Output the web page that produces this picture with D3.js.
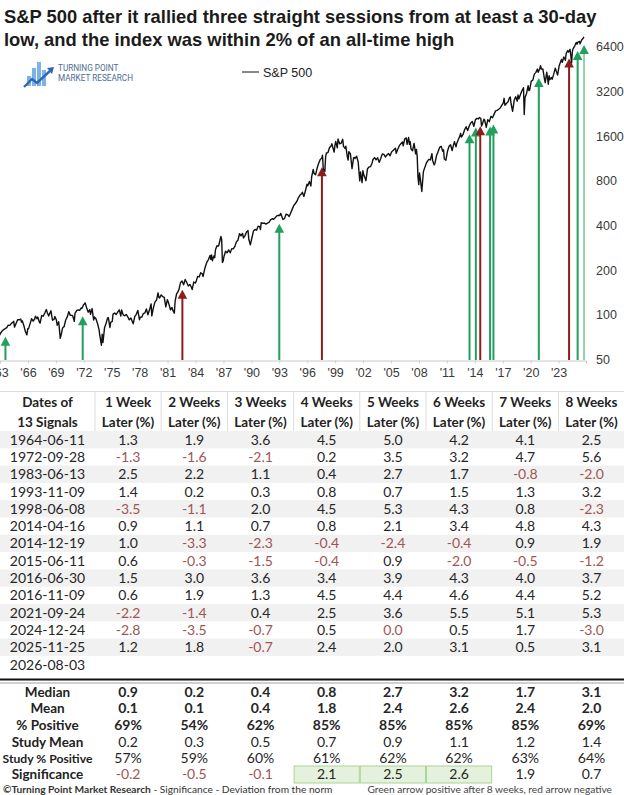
<!DOCTYPE html>
<html>
<head>
<meta charset="utf-8">
<script src="https://cdn.jsdelivr.net/npm/d3@7"></script>
<style>
  body { margin: 0; background: #fff; }
  svg { display: block; }
</style>
</head>
<body>
<div id="chart"></div>
<script>
// S&P 500 closes, [month, close]
const spx60s = [
  ["1963-10", 74.0], ["1963-11", 73.2], ["1963-12", 75.0],
  ["1964-02", 77.8], ["1964-04", 79.5], ["1964-06", 80.5], ["1964-08", 81.8], ["1964-10", 85.0], ["1964-12", 84.8],
  ["1965-02", 87.4], ["1965-04", 89.1], ["1965-05", 90.3], ["1965-06", 82.5], ["1965-08", 87.2], ["1965-10", 92.4], ["1965-12", 92.4],
  ["1966-02", 93.5], ["1966-03", 89.2], ["1966-04", 91.1], ["1966-06", 84.7], ["1966-08", 77.1], ["1966-10", 73.2], ["1966-11", 80.4], ["1966-12", 80.3],
  ["1967-02", 86.8], ["1967-04", 94.0], ["1967-06", 90.6], ["1967-08", 93.6], ["1967-09", 97.6], ["1967-11", 94.0], ["1967-12", 96.5],
  ["1968-02", 89.4], ["1968-03", 87.7], ["1968-05", 98.7], ["1968-07", 97.7], ["1968-09", 102.7], ["1968-11", 108.4], ["1968-12", 103.9],
  ["1969-02", 98.1], ["1969-04", 103.7], ["1969-05", 106.2], ["1969-07", 91.8], ["1969-09", 93.1], ["1969-10", 97.2], ["1969-12", 92.1]
]
const spx70s = [
  ["1970-01", 85.0], ["1970-03", 89.6], ["1970-05", 69.3], ["1970-06", 72.7], ["1970-08", 81.5], ["1970-10", 83.3], ["1970-12", 92.2],
  ["1971-02", 96.8], ["1971-04", 104.8], ["1971-06", 99.0], ["1971-08", 99.0], ["1971-09", 98.3], ["1971-11", 90.2], ["1971-12", 102.1],
  ["1972-02", 106.6], ["1972-04", 107.7], ["1972-06", 107.1], ["1972-08", 111.1], ["1972-09", 110.5], ["1972-11", 116.7], ["1972-12", 118.1],
  ["1973-01", 120.2], ["1973-03", 111.5], ["1973-05", 104.0], ["1973-07", 108.2], ["1973-08", 100.5], ["1973-10", 110.0], ["1973-12", 92.2],
  ["1974-01", 96.6], ["1974-03", 94.0], ["1974-05", 87.3], ["1974-07", 79.3], ["1974-08", 72.2], ["1974-10", 62.3], ["1974-11", 73.9], ["1974-12", 65.0],
  ["1975-02", 81.6], ["1975-04", 87.3], ["1975-06", 95.2], ["1975-07", 95.6], ["1975-09", 82.1], ["1975-10", 89.0], ["1975-12", 90.2],
  ["1976-01", 100.9], ["1976-03", 102.8], ["1976-05", 100.2], ["1976-07", 104.0], ["1976-09", 107.8], ["1976-11", 98.0], ["1976-12", 107.5],
  ["1977-02", 99.8], ["1977-04", 98.4], ["1977-06", 100.5], ["1977-08", 96.8], ["1977-10", 92.3], ["1977-12", 95.1],
  ["1978-03", 86.9], ["1978-05", 97.2], ["1978-07", 100.7], ["1978-09", 107.0], ["1978-11", 92.5], ["1978-12", 96.1],
  ["1979-02", 96.3], ["1979-04", 101.8], ["1979-06", 102.9], ["1979-08", 109.3], ["1979-10", 99.9], ["1979-12", 107.9]
]
const spx80s = [
  ["1980-02", 118.4], ["1980-03", 98.2], ["1980-05", 111.2], ["1980-07", 121.7], ["1980-09", 125.5], ["1980-11", 140.5], ["1980-12", 131.0],
  ["1981-01", 129.6], ["1981-03", 136.0], ["1981-05", 132.6], ["1981-07", 130.9], ["1981-09", 112.8], ["1981-11", 126.4], ["1981-12", 122.6],
  ["1982-02", 113.1], ["1982-03", 108.0], ["1982-05", 111.9], ["1982-06", 107.3], ["1982-08", 102.4], ["1982-09", 123.3], ["1982-11", 139.0], ["1982-12", 140.6],
  ["1983-02", 148.1], ["1983-04", 164.4], ["1983-06", 169.0], ["1983-08", 159.0], ["1983-10", 172.7], ["1983-12", 164.9],
  ["1984-02", 156.3], ["1984-04", 160.1], ["1984-06", 153.2], ["1984-07", 147.8], ["1984-09", 166.1], ["1984-11", 163.6], ["1984-12", 167.2],
  ["1985-02", 181.2], ["1985-04", 179.8], ["1985-06", 191.9], ["1985-08", 188.6], ["1985-09", 180.7], ["1985-11", 202.2], ["1985-12", 211.3],
  ["1986-02", 226.9], ["1986-04", 235.5], ["1986-06", 250.8], ["1986-07", 236.1], ["1986-08", 253.0], ["1986-09", 231.3], ["1986-11", 249.2], ["1986-12", 242.2],
  ["1987-01", 274.1], ["1987-03", 291.7], ["1987-05", 290.1], ["1987-07", 318.7], ["1987-08", 336.8], ["1987-09", 321.8], ["1987-10", 224.8], ["1987-11", 230.3], ["1987-12", 247.1],
  ["1988-02", 267.8], ["1988-04", 261.3], ["1988-06", 273.5], ["1988-08", 261.5], ["1988-10", 278.9], ["1988-12", 277.7],
  ["1989-02", 288.9], ["1989-04", 309.6], ["1989-06", 318.0], ["1989-08", 351.5], ["1989-10", 340.4], ["1989-12", 353.4]
]
const spx90s = [
  ["1990-01", 329.1], ["1990-03", 339.9], ["1990-05", 361.2], ["1990-07", 368.9], ["1990-08", 322.6], ["1990-10", 295.5], ["1990-12", 330.2],
  ["1991-02", 367.1], ["1991-04", 375.3], ["1991-06", 371.2], ["1991-08", 395.4], ["1991-10", 392.5], ["1991-11", 375.2], ["1991-12", 417.1],
  ["1992-02", 412.7], ["1992-04", 414.9], ["1992-06", 408.1], ["1992-08", 414.0], ["1992-10", 418.7], ["1992-12", 435.7],
  ["1993-02", 443.4], ["1993-04", 440.2], ["1993-06", 450.5], ["1993-08", 463.6], ["1993-10", 467.8], ["1993-12", 466.5],
  ["1994-01", 482.0], ["1994-04", 438.9], ["1994-06", 444.3], ["1994-08", 475.5], ["1994-10", 472.4], ["1994-12", 459.3],
  ["1995-02", 487.4], ["1995-04", 514.7], ["1995-06", 544.8], ["1995-08", 561.9], ["1995-10", 581.5], ["1995-12", 615.9],
  ["1996-02", 640.4], ["1996-04", 654.2], ["1996-05", 669.1], ["1996-07", 626.6], ["1996-09", 687.3], ["1996-11", 757.0], ["1996-12", 740.7],
  ["1997-02", 790.8], ["1997-04", 737.7], ["1997-05", 848.3], ["1997-07", 954.3], ["1997-08", 899.5], ["1997-10", 877.0], ["1997-12", 970.4],
  ["1998-02", 1049.3], ["1998-04", 1111.8], ["1998-06", 1133.8], ["1998-07", 1186.8], ["1998-08", 957.3], ["1998-10", 923.3], ["1998-11", 1163.6], ["1998-12", 1229.2],
  ["1999-02", 1238.3], ["1999-04", 1335.2], ["1999-06", 1372.7], ["1999-07", 1418.8], ["1999-10", 1247.4], ["1999-11", 1388.9], ["1999-12", 1469.3]
]
const spx00s = [
  ["2000-02", 1333.4], ["2000-03", 1527.5], ["2000-05", 1420.6], ["2000-07", 1430.8], ["2000-09", 1520.8], ["2000-10", 1364.4], ["2000-12", 1320.3],
  ["2001-01", 1366.0], ["2001-03", 1160.3], ["2001-04", 1103.3], ["2001-05", 1255.8], ["2001-07", 1211.2], ["2001-09", 965.8], ["2001-11", 1139.5], ["2001-12", 1148.1],
  ["2002-01", 1130.2], ["2002-03", 1170.3], ["2002-05", 1067.1], ["2002-07", 797.7], ["2002-08", 916.1], ["2002-10", 776.8], ["2002-11", 936.3], ["2002-12", 879.8],
  ["2003-01", 855.7], ["2003-03", 800.7], ["2003-05", 963.6], ["2003-07", 990.3], ["2003-09", 996.0], ["2003-11", 1058.2], ["2003-12", 1111.9],
  ["2004-02", 1144.9], ["2004-04", 1107.3], ["2004-06", 1140.8], ["2004-08", 1063.2], ["2004-10", 1130.2], ["2004-12", 1211.9],
  ["2005-02", 1203.6], ["2005-04", 1156.9], ["2005-06", 1191.3], ["2005-08", 1220.3], ["2005-10", 1177.6], ["2005-12", 1248.3],
  ["2006-02", 1280.7], ["2006-05", 1325.8], ["2006-06", 1223.7], ["2006-08", 1303.8], ["2006-10", 1377.9], ["2006-12", 1418.3],
  ["2007-02", 1459.7], ["2007-03", 1374.1], ["2007-05", 1530.6], ["2007-07", 1553.1], ["2007-08", 1406.7], ["2007-10", 1565.2], ["2007-11", 1407.2], ["2007-12", 1468.4],
  ["2008-01", 1310.5], ["2008-03", 1273.4], ["2008-05", 1426.6], ["2008-07", 1214.9], ["2008-08", 1300.7], ["2008-09", 1166.4], ["2008-10", 848.9], ["2008-11", 752.4], ["2008-12", 903.3],
  ["2009-01", 825.9], ["2009-03", 676.5], ["2009-05", 919.1], ["2009-07", 987.5], ["2009-09", 1057.1], ["2009-11", 1095.6], ["2009-12", 1115.1]
]
const spx10s = [
  ["2010-02", 1104.5], ["2010-04", 1217.3], ["2010-05", 1089.4], ["2010-07", 1022.6], ["2010-08", 1049.3], ["2010-10", 1183.3], ["2010-12", 1257.6],
  ["2011-02", 1343.0], ["2011-04", 1363.6], ["2011-06", 1265.4], ["2011-07", 1292.3], ["2011-08", 1119.5], ["2011-10", 1099.2], ["2011-12", 1257.6],
  ["2012-02", 1365.7], ["2012-04", 1397.9], ["2012-06", 1278.0], ["2012-08", 1406.6], ["2012-09", 1465.8], ["2012-11", 1353.3], ["2012-12", 1426.2],
  ["2013-02", 1514.7], ["2013-04", 1597.6], ["2013-05", 1669.2], ["2013-06", 1573.1], ["2013-08", 1633.0], ["2013-10", 1756.5], ["2013-12", 1848.4],
  ["2014-02", 1741.9], ["2014-04", 1862.3], ["2014-06", 1960.2], ["2014-08", 2003.4], ["2014-10", 1862.5], ["2014-12", 2058.9],
  ["2015-02", 2104.5], ["2015-04", 2085.5], ["2015-05", 2130.8], ["2015-07", 2103.8], ["2015-08", 1867.6], ["2015-09", 1920.0], ["2015-11", 2080.4], ["2015-12", 2043.9],
  ["2016-02", 1829.1], ["2016-04", 2065.3], ["2016-06", 2000.5], ["2016-08", 2170.9], ["2016-10", 2126.2], ["2016-12", 2238.8],
  ["2017-02", 2363.6], ["2017-04", 2384.2], ["2017-06", 2423.4], ["2017-08", 2471.7], ["2017-10", 2575.3], ["2017-12", 2673.6],
  ["2018-01", 2872.9], ["2018-02", 2581.0], ["2018-04", 2648.1], ["2018-06", 2718.4], ["2018-08", 2901.5], ["2018-09", 2930.8], ["2018-10", 2641.3], ["2018-12", 2351.1],
  ["2019-02", 2784.5], ["2019-04", 2945.8], ["2019-06", 2744.5], ["2019-07", 3025.9], ["2019-08", 2847.1], ["2019-10", 3037.6], ["2019-12", 3230.8]
]
const spx20s = [
  ["2020-02", 3386.2], ["2020-03", 2237.4], ["2020-04", 2912.4], ["2020-06", 3100.3], ["2020-08", 3500.3], ["2020-09", 3236.9], ["2020-10", 3269.0], ["2020-12", 3756.1],
  ["2021-02", 3811.2], ["2021-04", 4181.2], ["2021-06", 4297.5], ["2021-08", 4522.7], ["2021-09", 4307.5], ["2021-11", 4567.0], ["2021-12", 4766.2],
  ["2022-01", 4515.6], ["2022-03", 4530.4], ["2022-05", 3900.9], ["2022-06", 3666.8], ["2022-08", 4305.2], ["2022-10", 3577.0], ["2022-11", 4080.1], ["2022-12", 3839.5],
  ["2023-02", 3970.2], ["2023-03", 3855.8], ["2023-05", 4179.8], ["2023-07", 4589.0], ["2023-10", 4117.4], ["2023-12", 4769.8],
  ["2024-02", 5096.3], ["2024-03", 5254.4], ["2024-04", 5018.4], ["2024-06", 5460.5], ["2024-08", 5186.3], ["2024-09", 5762.5], ["2024-11", 6032.4], ["2024-12", 5881.6],
  ["2025-02", 6144.2], ["2025-03", 5580.9], ["2025-04", 4982.8], ["2025-05", 5911.7], ["2025-06", 6205.0], ["2025-08", 6460.3], ["2025-10", 6840.2], ["2025-11", 6650.0], ["2025-12", 6845.5],
  ["2026-02", 6950.0], ["2026-03", 6700.0], ["2026-05", 7100.0], ["2026-07", 7300.0], ["2026-08", 7450.0]
]

// signals (table rows) and the close on each signal day (for the arrows)
const signalDates = ["1964-06-11", "1972-09-28", "1983-06-13", "1993-11-09", "1998-06-08", "2014-04-16", "2014-12-19",
  "2015-06-11", "2016-06-30", "2016-11-09", "2021-09-24", "2024-12-24", "2025-11-25", "2026-08-03"]
const signalClose = [80.5, 110.4, 167.0, 463.7, 1115.7, 1862.3, 2070.7, 2108.9, 2098.9, 2163.3, 4455.5, 6040, 6766, 7450]

const wk1 = [1.3, -1.3, 2.5, 1.4, -3.5, 0.9, 1.0, 0.6, 1.5, 0.6, -2.2, -2.8, 1.2, null]
const wk2 = [1.9, -1.6, 2.2, 0.2, -1.1, 1.1, -3.3, -0.3, 3.0, 1.9, -1.4, -3.5, 1.8, null]
const wk3 = [3.6, -2.1, 1.1, 0.3, 2.0, 0.7, -2.3, -1.5, 3.6, 1.3, 0.4, -0.7, -0.7, null]
const wk4 = [4.5, 0.2, 0.4, 0.8, 4.5, 0.8, -0.4, -0.4, 3.4, 4.5, 2.5, 0.5, 2.4, null]
const wk5 = [5.0, 3.5, 2.7, 0.7, 5.3, 2.1, -2.4, 0.9, 3.9, 4.4, 3.6, -0.0, 2.0, null]
const wk6 = [4.2, 3.2, 1.7, 1.5, 4.3, 3.4, -0.4, -2.0, 4.3, 4.6, 5.5, 0.5, 3.1, null]
const wk7 = [4.1, 4.7, -0.8, 1.3, 0.8, 4.8, 0.9, -0.5, 4.0, 4.4, 5.1, 1.7, 0.5, null]
const wk8 = [2.5, 5.6, -2.0, 3.2, -2.3, 4.3, 1.9, -1.2, 3.7, 5.2, 5.3, -3.0, 3.1, null]

const headerTop = ["Dates of", "1 Week", "2 Weeks", "3 Weeks", "4 Weeks", "5 Weeks", "6 Weeks", "7 Weeks", "8 Weeks"]
const headerBottom = ["13 Signals", "Later (%)", "Later (%)", "Later (%)", "Later (%)", "Later (%)", "Later (%)", "Later (%)", "Later (%)"]

const statLabels = ["Median", "Mean", "% Positive", "Study Mean", "Study % Positive", "Significance"]
const medianRow = [0.9, 0.2, 0.4, 0.8, 2.7, 3.2, 1.7, 3.1]
const meanRow = [0.1, 0.1, 0.4, 1.8, 2.4, 2.6, 2.4, 2.0]
const pctPositive = [69, 54, 62, 85, 85, 85, 85, 69]
const studyMean = [0.2, 0.3, 0.5, 0.7, 0.9, 1.1, 1.2, 1.4]
const studyPctPositive = [57, 59, 60, 61, 62, 62, 63, 64]
const significance = [-0.2, -0.5, -0.1, 2.1, 2.5, 2.6, 1.9, 0.7]

const tickYears = [1963, 1966, 1969, 1972, 1975, 1978, 1981, 1984, 1987, 1990, 1993, 1996, 1999, 2002, 2005, 2008, 2011, 2014, 2017, 2020, 2023]
const priceTicks = [50, 100, 200, 400, 800, 1600, 3200, 6400]

// ---------------------------------------------------------------
const W = 624, H = 795
const GREEN = "#22a05b", RED = "#8e1c1c", NEG = "#a05555", INK = "#222"
const sans = "'Liberation Sans', Arial, sans-serif"
const tbl = "Lato, 'Open Sans', sans-serif"

const svg = d3.select("#chart").append("svg")
    .attr("width", W).attr("height", H)
    .attr("viewBox", `0 0 ${W} ${H}`)

svg.append("rect").attr("width", W).attr("height", H).attr("fill", "#fff")

// title, scaled so the first line fills the width like in the picture
const title = svg.append("g").attr("font-family", sans).attr("font-weight", "bold").attr("fill", "#1b1b1b")
const t1 = title.append("text").attr("x", 4).attr("y", 23).attr("font-size", 18)
    .text("S&P 500 after it rallied three straight sessions from at least a 30-day")
const t2 = title.append("text").attr("x", 4).attr("y", 46).attr("font-size", 18)
    .text("low, and the index was within 2% of an all-time high")
const fs = 18 * 593 / t1.node().getComputedTextLength()
t1.attr("font-size", fs); t2.attr("font-size", fs)

// logo
const logo = svg.append("g").attr("transform", "translate(24,58)")
const bars = [[3, 18, 10], [8, 10, 18], [13, 4, 24], [18, 12, 16]]
bars.forEach(b => logo.append("rect").attr("x", b[0]).attr("y", b[1]).attr("width", 4).attr("height", b[2])
    .attr("fill", "#7db2e4"))
logo.append("polyline").attr("points", "0,29 8,21 13,25 27,12")
    .attr("fill", "none").attr("stroke", "#2d69b3").attr("stroke-width", 2.4)
logo.append("path").attr("d", "M23,10 L30,9 L28,16 Z").attr("fill", "#2d69b3")
logo.append("text").attr("x", 34).attr("y", 13).attr("font-family", "Roboto, sans-serif")
    .attr("font-size", 8.2).attr("fill", "#4d6d92").text("TURNING POINT")
logo.append("text").attr("x", 34).attr("y", 23).attr("font-family", "Roboto, sans-serif")
    .attr("font-size", 8.2).attr("fill", "#4d6d92").text("MARKET RESEARCH")

// legend
svg.append("line").attr("x1", 242).attr("x2", 259).attr("y1", 72).attr("y2", 72)
    .attr("stroke", "#111").attr("stroke-width", 1)
svg.append("text").attr("x", 263).attr("y", 76.5).attr("font-family", sans)
    .attr("font-size", 12.5).attr("fill", INK).text("S&P 500")

// ---------------------------------------------------------------
// price chart
const parseMonth = d3.timeParse("%Y-%m")
const parseDay = d3.timeParse("%Y-%m-%d")
const spx = [].concat(spx60s, spx70s, spx80s, spx90s, spx00s, spx10s, spx20s)
    .map(d => ({ date: parseMonth(d[0]), close: d[1] }))

const x = d3.scaleTime()
    .domain([new Date(1963, 10, 10), new Date(2026, 9, 19)])
    .range([0, 586])
const y = d3.scaleLog().base(2)
    .domain([50, 6400])
    .range([359.4, 46.7])

// bottom axis (labels sit at the November mark, as in the source chart)
const xAxis = svg.append("g").attr("transform", "translate(0,360.5)")
    .call(d3.axisBottom(x)
        .tickValues(tickYears.map(yr => new Date(yr, 10, 10)))
        .tickFormat(d3.timeFormat("'%y"))
        .tickSize(3).tickPadding(5))
xAxis.select(".domain").attr("stroke", "#c8c8c8")
xAxis.selectAll(".tick line").attr("stroke", "#cfcfcf")
xAxis.selectAll("text").attr("font-family", sans).attr("font-size", 12.5).attr("fill", "#3a3a3a")

const yAxis = svg.append("g").attr("transform", "translate(588,0)")
    .call(d3.axisRight(y).tickValues(priceTicks).tickFormat(d3.format("d")).tickSize(0).tickPadding(8))
yAxis.select(".domain").remove()
yAxis.selectAll("text").attr("font-family", sans).attr("font-size", 12.5).attr("fill", "#3a3a3a")

// arrows
const signals = signalDates.map((d, i) => ({
    date: parseDay(d), close: signalClose[i], ret: wk8[i]
}))
const arrowColor = d => d.ret == null ? GREEN : (d.ret >= 0 ? GREEN : RED)
const arrows = svg.append("g").selectAll("g").data(signals).join("g")
arrows.append("line")
    .attr("x1", d => x(d.date)).attr("x2", d => x(d.date))
    .attr("y1", 360).attr("y2", d => y(d.close) + 14)
    .attr("stroke", d => d.ret == null ? "#93d3ad" : arrowColor(d))
    .attr("stroke-width", 2)
arrows.append("path")
    .attr("d", d => {
        const cx = x(d.date), ty = y(d.close) + 8
        return `M${cx},${ty} L${cx + 4.8},${ty + 9} L${cx - 4.8},${ty + 9} Z`
    })
    .attr("fill", arrowColor)

// price line
svg.append("path").datum(spx)
    .attr("fill", "none").attr("stroke", "#111").attr("stroke-width", 1.4)
    .attr("stroke-linejoin", "round")
    .attr("d", d3.line().x(d => x(d.date)).y(d => y(d.close)))

// ---------------------------------------------------------------
// table
const dateColW = 95, colW = 66.2
const colCenter = i => i === 0 ? dateColW / 2 : dateColW + colW * (i - 0.5)
const table = svg.append("g").attr("font-family", tbl)

// header
table.append("line").attr("x1", 0).attr("x2", W).attr("y1", 391.5).attr("y2", 391.5)
    .attr("stroke", "#dcdcdc")
d3.range(8).forEach(i => table.append("line")
    .attr("x1", dateColW + colW * i).attr("x2", dateColW + colW * i)
    .attr("y1", 392).attr("y2", 431).attr("stroke", "#dcdcdc"))
headerTop.forEach((h, i) => {
    table.append("text").attr("x", colCenter(i)).attr("y", 406.5).attr("text-anchor", "middle")
        .attr("font-size", 13.5).attr("font-weight", "bold").attr("fill", INK).text(h)
    table.append("text").attr("x", colCenter(i)).attr("y", 426.5).attr("text-anchor", "middle")
        .attr("font-size", 13.5).attr("font-weight", "bold").attr("fill", INK).text(headerBottom[i])
})

// signal rows
const rowTop = 431, rowH = 17.3
const weeks = [wk1, wk2, wk3, wk4, wk5, wk6, wk7, wk8]
const isNeg = v => v < 0 || Object.is(v, -0)
signalDates.forEach((d, r) => {
    const top = rowTop + rowH * r
    if (r % 2 === 0)
        table.append("rect").attr("x", 0).attr("y", top).attr("width", W).attr("height", rowH).attr("fill", "#f1f1f1")
    table.append("text").attr("x", colCenter(0)).attr("y", top + rowH / 2 + 5).attr("text-anchor", "middle")
        .attr("font-size", 14).attr("fill", "#262626").text(d)
    weeks.forEach((col, c) => {
        const v = col[r]
        if (v == null) return
        table.append("text").attr("x", colCenter(c + 1)).attr("y", top + rowH / 2 + 5).attr("text-anchor", "middle")
            .attr("font-size", 14).attr("fill", isNeg(v) ? NEG : "#262626").text(v.toFixed(1))
    })
})

// separator
table.append("line").attr("x1", 0).attr("x2", W).attr("y1", 679.5).attr("y2", 679.5)
    .attr("stroke", "#111").attr("stroke-width", 2)
table.append("line").attr("x1", 0).attr("x2", W).attr("y1", 683).attr("y2", 683)
    .attr("stroke", "#8a8a8a").attr("stroke-width", 0.8)

// stats
const statRows = [
    { vals: medianRow, fmt: v => v.toFixed(1), bold: true },
    { vals: meanRow, fmt: v => v.toFixed(1), bold: true },
    { vals: pctPositive, fmt: v => v + "%", bold: true },
    { vals: studyMean, fmt: v => v.toFixed(1), bold: false },
    { vals: studyPctPositive, fmt: v => v + "%", bold: false },
    { vals: significance, fmt: v => v.toFixed(1), bold: false }
]
const statY = [691.7, 708.3, 725, 741.7, 757.9, 774.4]

significance.forEach((v, c) => {
    if (v < 2) return
    table.append("rect").attr("x", dateColW + colW * c + 0.5).attr("y", 766).attr("width", colW - 1).attr("height", 17)
        .attr("fill", "#e4f1dc").attr("stroke", "#acd495").attr("stroke-width", 1)
})

statRows.forEach((row, r) => {
    const lab = table.append("text").attr("x", colCenter(0)).attr("y", statY[r] + 5).attr("text-anchor", "middle")
        .attr("font-size", 13.5).attr("font-weight", "bold").attr("fill", INK).text(statLabels[r])
    // keep the longest label inside the first column, as in the picture
    const len = lab.node().getComputedTextLength()
    if (len > 90) lab.attr("font-size", 13.5 * 90 / len)
    row.vals.forEach((v, c) => {
        table.append("text").attr("x", colCenter(c + 1)).attr("y", statY[r] + 5).attr("text-anchor", "middle")
            .attr("font-size", 14).attr("font-weight", row.bold ? "bold" : "normal")
            .attr("fill", v < 0 ? NEG : "#262626").text(row.fmt(v))
    })
})

// footer
const foot = svg.append("text").attr("x", 3).attr("y", 792.5).attr("font-family", tbl)
    .attr("font-size", 10.2).attr("fill", "#333")
foot.append("tspan").attr("font-weight", "bold").text("©Turning Point Market Research")
foot.append("tspan").text(" - Significance - Deviation from the norm")
svg.append("text").attr("x", 612).attr("y", 792.5).attr("text-anchor", "end").attr("font-family", tbl)
    .attr("font-size", 10.2).attr("fill", "#444").text("Green arrow positive after 8 weeks, red arrow negative")
</script>
</body>
</html>
